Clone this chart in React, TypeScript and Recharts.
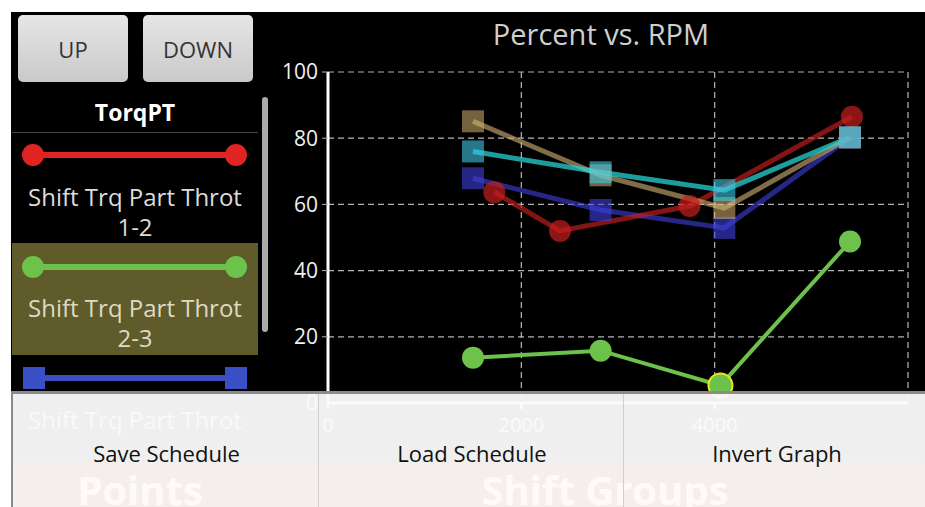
import React from "react";
import { LineChart, Line, XAxis, YAxis, CartesianGrid, ReferenceDot } from "recharts";

const FONT = "'Open Sans', 'Noto Sans', sans-serif";

const X_TICKS = [0, 2000, 4000];
const Y_TICKS = [0, 20, 40, 60, 80, 100];

// Shift Trq Part Throt series (RPM, percent)
const SHIFT_12 = [
  { rpm: 1720, pct: 63.7 },
  { rpm: 2400, pct: 52 },
  { rpm: 3740, pct: 59.5 },
  { rpm: 5420, pct: 86.5 },
];
const SHIFT_23 = [
  { rpm: 1500, pct: 13.7 },
  { rpm: 2820, pct: 15.8 },
  { rpm: 4060, pct: 5.3 },
  { rpm: 5400, pct: 48.8 },
];
const SHIFT_34 = [
  { rpm: 1500, pct: 67.9 },
  { rpm: 2820, pct: 58.3 },
  { rpm: 4100, pct: 52.9 },
  { rpm: 5400, pct: 80.2 },
];
const SHIFT_45 = [
  { rpm: 1500, pct: 85.1 },
  { rpm: 2820, pct: 68.8 },
  { rpm: 4100, pct: 58.9 },
  { rpm: 5400, pct: 80.2 },
];
const SHIFT_56 = [
  { rpm: 1500, pct: 76 },
  { rpm: 2820, pct: 69.7 },
  { rpm: 4100, pct: 64.3 },
  { rpm: 5400, pct: 80.3 },
];
const SELECTED = SHIFT_23[2];

const LEGEND = [
  { label: "Shift Trq Part Throt", sub: "1-2", color: "#e02424", shape: "circle", top: 132 },
  { label: "Shift Trq Part Throt", sub: "2-3", color: "#6cc24a", shape: "circle", top: 243, active: true },
  { label: "Shift Trq Part Throt", sub: "", color: "#3a4fc4", shape: "square", top: 355 },
];

const MENU = ["Save Schedule", "Load Schedule", "Invert Graph"];

const squareDot = (fill: string, size = 22) => (props: any) => {
  const { cx, cy, index } = props;
  if (cx == null || cy == null) return <g key={index} />;
  return <rect key={index} x={cx - size / 2} y={cy - size / 2} width={size} height={size} fill={fill} />;
};

function Button({ left, label }: { left: number; label: string }) {
  return (
    <div
      style={{
        position: "absolute",
        left,
        top: 15,
        width: 110,
        height: 67,
        borderRadius: 5,
        background: "linear-gradient(#e6e6e6, #c9c9c9)",
        color: "#333",
        fontSize: 22,
        display: "flex",
        alignItems: "center",
        justifyContent: "center",
      }}
    >
      {label}
    </div>
  );
}

function LegendRow({ item }: { item: (typeof LEGEND)[number] }) {
  const ly = item.active ? 24 : 23;
  const textStyle: React.CSSProperties = {
    position: "absolute",
    left: -10,
    width: 266,
    height: 28,
    textAlign: "center",
    color: item.active ? "#dedac2" : "#dcdcdc",
    fontSize: 24,
    lineHeight: "28px",
    whiteSpace: "nowrap",
  };
  return (
    <div
      style={{
        position: "absolute",
        left: 12,
        top: item.top,
        width: 246,
        height: 112,
        background: item.active ? "#5f5b2a" : "transparent",
      }}
    >
      <svg width={246} height={50} style={{ position: "absolute", left: 0, top: 0 }}>
        <line x1={21} x2={224} y1={ly} y2={ly} stroke={item.color} strokeWidth={6} />
        {item.shape === "circle" ? (
          <>
            <circle cx={21} cy={ly} r={11} fill={item.color} />
            <circle cx={224} cy={ly} r={11} fill={item.color} />
          </>
        ) : (
          <>
            <rect x={11} y={12} width={22} height={22} fill={item.color} />
            <rect x={213} y={12} width={22} height={22} fill={item.color} />
          </>
        )}
      </svg>
      <div style={{ ...textStyle, top: 51 }}>{item.label}</div>
      {item.sub && <div style={{ ...textStyle, top: 81 }}>{item.sub}</div>}
    </div>
  );
}

export default function App() {
  return (
    <div style={{ position: "absolute", left: 0, top: 0, width: 925, height: 507, background: "#fff", overflow: "hidden", fontFamily: FONT }}>
      <div style={{ position: "absolute", left: 11, top: 12, right: 0, bottom: 0, background: "#000" }} />

      <Button left={18} label="UP" />
      <Button left={143} label="DOWN" />

      <div style={{ position: "absolute", left: 12, top: 96, width: 246, textAlign: "center", color: "#fff", fontWeight: 700, fontSize: 23 }}>
        TorqPT
      </div>
      <div style={{ position: "absolute", left: 12, top: 132, width: 246, height: 1, background: "#444" }} />
      {LEGEND.map((item) => (
        <LegendRow key={item.top} item={item} />
      ))}
      <div style={{ position: "absolute", left: 262, top: 97, width: 6, height: 235, borderRadius: 3, background: "#aaa" }} />

      <div style={{ position: "absolute", left: 280, top: 14, width: 642, textAlign: "center", color: "#cfcfcf", fontSize: 29 }}>
        Percent vs. RPM
      </div>

      <div style={{ position: "absolute", left: 270, top: 12 }}>
        <LineChart width={655} height={427} margin={{ top: 60, right: 17, bottom: 6, left: 8 }}>
          <CartesianGrid stroke="#b5b5b5" strokeDasharray="6 4" strokeWidth={1.2} />
          <XAxis
            type="number"
            dataKey="rpm"
            domain={[0, 6000]}
            ticks={X_TICKS}
            height={30}
            stroke="#fff"
            strokeWidth={3}
            tickSize={6}
            tickMargin={9}
            tick={{ fill: "#fff", fontSize: 20, fontFamily: FONT }}
            allowDuplicatedCategory={false}
          />
          <YAxis
            type="number"
            domain={[0, 100]}
            ticks={Y_TICKS}
            width={50}
            stroke="#fff"
            strokeWidth={3}
            tickLine={{ stroke: "#b5b5b5", strokeWidth: 1 }}
            tickSize={6}
            tickMargin={4}
            tick={{ fill: "#f0f0f0", fontSize: 21, fontFamily: FONT }}
          />
          <Line
            data={SHIFT_34}
            dataKey="pct"
            stroke="#4040e0"
            strokeOpacity={0.6}
            strokeWidth={5}
            dot={squareDot("rgba(64,64,224,0.6)")}
            isAnimationActive={false}
          />
          <Line
            data={SHIFT_12}
            dataKey="pct"
            stroke="#c81e1e"
            strokeOpacity={0.65}
            strokeWidth={5}
            dot={{ r: 11, fill: "rgba(200,30,30,0.7)", stroke: "none" }}
            isAnimationActive={false}
          />
          <Line
            data={SHIFT_45}
            dataKey="pct"
            stroke="#d6b474"
            strokeOpacity={0.6}
            strokeWidth={5}
            dot={squareDot("rgba(214,180,116,0.55)")}
            isAnimationActive={false}
          />
          <Line
            data={SHIFT_56}
            dataKey="pct"
            stroke="#2ae0e0"
            strokeOpacity={0.7}
            strokeWidth={5}
            dot={squareDot("rgba(60,200,230,0.6)")}
            isAnimationActive={false}
          />
          <ReferenceDot x={SELECTED.rpm} y={SELECTED.pct} r={11} fill="none" stroke="#f2e419" strokeWidth={4} />
          <Line
            data={SHIFT_23}
            dataKey="pct"
            stroke="#6cc24a"
            strokeWidth={4}
            dot={{ r: 11, fill: "#6cc24a", stroke: "none" }}
            isAnimationActive={false}
          />
        </LineChart>
      </div>

      {/* beneath the menu, faintly visible */}
      <div style={{ position: "absolute", left: 12, top: 462, width: 256, textAlign: "center", color: "#fff", fontWeight: 700, fontSize: 40 }}>
        Points
      </div>
      <div style={{ position: "absolute", left: 420, top: 462, width: 370, textAlign: "center", color: "#fff", fontWeight: 700, fontSize: 40 }}>
        Shift Groups
      </div>

      <div
        style={{
          position: "absolute",
          left: 11,
          top: 391,
          right: 0,
          bottom: 0,
          borderTop: "3px solid #8a8a8a",
          borderLeft: "2px solid #8a8a8a",
          background: "linear-gradient(rgba(250,250,250,0.955) 0%, rgba(250,250,250,0.955) 60%, rgba(255,250,248,0.955) 62%)",
        }}
      >
        {MENU.map((t, i) => (
          <div
            key={t}
            style={{
              position: "absolute",
              left: i * 305,
              top: 0,
              width: 307,
              height: "100%",
              borderLeft: i ? "1px solid #cfcfcf" : "none",
              color: "#111",
              fontSize: 22,
              textAlign: "center",
              paddingTop: 44,
              boxSizing: "border-box",
            }}
          >
            {t}
          </div>
        ))}
      </div>
    </div>
  );
}
